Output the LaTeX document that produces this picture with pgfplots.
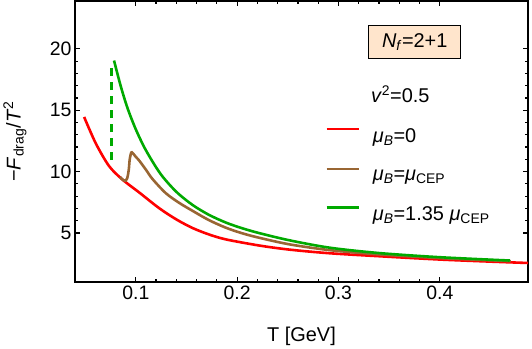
\documentclass[border=0pt]{standalone}
\usepackage{fontspec}
\setmainfont{Liberation Sans}
\usepackage{pgfplots}
\pgfplotsset{compat=1.18}
\definecolor{mbrown}{rgb}{0.6,0.4,0.2}
\definecolor{mgreen}{rgb}{0,0.667,0}
\definecolor{peach}{rgb}{1,0.9,0.8}

\begin{document}
\begin{tikzpicture}
\useasboundingbox (-75bp,-67bp) rectangle (457bp,282bp);
\begin{axis}[
  scale only axis, width=453bp, height=281bp,
  at={(0,0)}, anchor=south west,
  xmin=0.04, xmax=0.487, ymin=1, ymax=23.9,
  xtick={0.1,0.2,0.3,0.4}, ytick={5,10,15,20},
  minor x tick num=4, minor y tick num=4,
  tick align=inside,
  major tick length=5bp, minor tick length=3bp,
  every tick/.style={black, line width=1.2pt},
  separate axis lines,
  axis line style={line width=2.4pt, line cap=rect},
  /pgf/number format/assume math mode=true,
  tick label style={font=\fontsize{19.5}{22}\selectfont},
  label style={font=\fontsize{20}{24}\selectfont},
  xlabel={T [GeV]},
  ylabel={−\textit{F}\textsubscript{drag}/\textit{T}\textsuperscript{2}},
  xlabel style={at={(axis description cs:0.5,-0.195)}, anchor=center},
  ylabel style={at={(axis description cs:-0.1325,0.5)}, anchor=center},
  legend style={draw=none, fill=none, at={(axis description cs:0.552,0.381)},
    anchor=west, inner sep=0pt, nodes={inner sep=0pt},
    row sep=24bp, column sep=13bp, font=\fontsize{20}{24}\selectfont},
  legend cell align=left,
  legend image code/.code={\draw[#1] (0bp,7bp) -- (32bp,7bp);},
]

% mu_B = 0
\addplot[red, line width=2.6pt, smooth] coordinates {
  (0.049,14.45) (0.0605,12.3) (0.0736,10.45) (0.0868,9.35) (0.1033,8.3)
  (0.123,7.02) (0.14,6.1) (0.156,5.4) (0.172,4.88) (0.189,4.47)
  (0.222,3.97) (0.2515,3.64) (0.29,3.35) (0.34,3.1) (0.4,2.83)
  (0.45,2.66) (0.487,2.55)
};
\addlegendentry{\textit{μ}\textsubscript{\textit{B}}=0}

% mu_B = mu_CEP
\addplot[mbrown, line width=2.6pt, smooth] coordinates {
  (0.0845,9.55) (0.0875,9.3) (0.0900,9.25) (0.0915,9.45) (0.093,10.1)
  (0.094,11.0) (0.0955,11.55) (0.097,11.5) (0.1,11.2) (0.1033,10.9)
  (0.11,10.15) (0.1164,9.4) (0.1296,8.24) (0.1428,7.45) (0.156,6.8)
  (0.172,6.05) (0.189,5.42) (0.205,4.97) (0.222,4.6) (0.2515,4.07)
  (0.291,3.6) (0.34,3.25) (0.4,2.95) (0.47,2.7)
};
\addlegendentry{\textit{μ}\textsubscript{\textit{B}}=\textit{μ}\textsubscript{CEP}}

% mu_B = 1.35 mu_CEP
\addplot[mgreen, line width=2.6pt, smooth] coordinates {
  (0.0785,19.05) (0.085,17.0) (0.0917,15.2) (0.1,13.44) (0.11,11.73)
  (0.1245,9.8) (0.14,8.35) (0.156,7.28) (0.172,6.48) (0.189,5.84)
  (0.205,5.38) (0.222,4.98) (0.2515,4.4) (0.291,3.8) (0.34,3.36)
  (0.4,3.02) (0.469,2.75)
};
\addlegendentry{\textit{μ}\textsubscript{\textit{B}}=1.35 \textit{μ}\textsubscript{CEP}}

% jump
\addplot[mgreen, line width=2.6pt, dash pattern=on 8bp off 6bp, forget plot]
  coordinates {(0.0759,10.94) (0.0759,18.78)};

\node[draw, line width=1.2pt, fill=peach, minimum width=92bp, minimum height=33bp,
  inner sep=0pt, font=\fontsize{20}{24}\selectfont]
  at (rel axis cs:0.75,0.854) {\textit{N}\textsubscript{\textit{f}}=2+1};
\node[anchor=west, inner sep=0pt, font=\fontsize{20}{24}\selectfont]
  at (rel axis cs:0.653,0.669) {\textit{v}\textsuperscript{2}=0.5};

\end{axis}
\end{tikzpicture}
\end{document}
